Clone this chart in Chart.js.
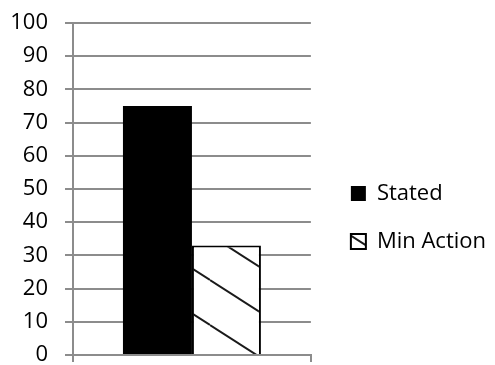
<!DOCTYPE html>
<html>
<head>
<meta charset="utf-8">
<script src="https://cdn.jsdelivr.net/npm/chart.js@4"></script>
<style>
  html, body { margin: 0; padding: 0; background: #fff; }
  #wrap { width: 495px; height: 365px; }
</style>
</head>
<body>
<div id="wrap"><canvas id="c"></canvas></div>
<script>
// Chart data
const categories = [''];
const seriesNames = ['Stated', 'Min Action'];
const statedValues = [75];
const minActionValues = [33];
const yTicks = [0, 10, 20, 30, 40, 50, 60, 70, 80, 90, 100];

// Diagonal hatch fill for the second series
function makeHatch() {
  const w = 70, h = 45;
  const tile = document.createElement('canvas');
  tile.width = w; tile.height = h;
  const t = tile.getContext('2d');
  t.fillStyle = '#fff';
  t.fillRect(0, 0, w, h);
  t.strokeStyle = '#1a1a1a';
  t.lineWidth = 2;
  for (let k = -1; k <= 1; k++) {
    t.beginPath();
    t.moveTo(0, 10 + k * h);
    t.lineTo(w, 10 + h + k * h);
    t.stroke();
  }
  return document.getElementById('c').getContext('2d').createPattern(tile, 'repeat');
}

// Moves the legend a little away from the plot and down towards the bars
const legendOffset = {
  id: 'legendOffset',
  afterLayout(chart) {
    const lg = chart.legend;
    if (!lg) return;
    lg.left += 14; lg.right += 14;
    lg.top += 25; lg.bottom += 25;
  }
};

const FONT = "'Open Sans', sans-serif";
const GRID = '#8c8c8c';

new Chart(document.getElementById('c'), {
  type: 'bar',
  data: {
    labels: categories,
    datasets: [
      {
        label: seriesNames[0],
        data: statedValues,
        backgroundColor: '#000',
        borderWidth: 0
      },
      {
        label: seriesNames[1],
        data: minActionValues,
        backgroundColor: makeHatch(),
        borderColor: '#000',
        borderWidth: 2
      }
    ]
  },
  plugins: [legendOffset],
  options: {
    responsive: true,
    maintainAspectRatio: false,
    animation: false,
    categoryPercentage: 0.58,
    barPercentage: 1.0,
    layout: { padding: { top: 23, left: 8, right: 13, bottom: 3 } },
    plugins: {
      tooltip: { enabled: false },
      legend: {
        position: 'right',
        maxWidth: 200,
        labels: {
          color: '#000',
          font: { family: FONT, size: 22 },
          boxWidth: 15,
          boxHeight: 15,
          padding: 26
        }
      }
    },
    scales: {
      x: {
        grid: {
          drawOnChartArea: false,
          drawTicks: true,
          tickLength: 7,
          color: GRID,
          lineWidth: 2,
          offset: true
        },
        border: { color: GRID, width: 2 },
        ticks: { display: false }
      },
      y: {
        min: 0,
        max: 100,
        afterBuildTicks: (axis) => { axis.ticks = yTicks.map(v => ({ value: v })); },
        afterFit: (axis) => {
          axis.width = 65;
          axis.paddingTop = 0;
          axis.paddingBottom = 0;
        },
        grid: { color: GRID, lineWidth: 2, tickLength: 8 },
        border: { color: GRID, width: 2 },
        ticks: {
          color: '#000',
          padding: 17,
          font: { family: FONT, size: 22 }
        }
      }
    }
  }
});
</script>
</body>
</html>
